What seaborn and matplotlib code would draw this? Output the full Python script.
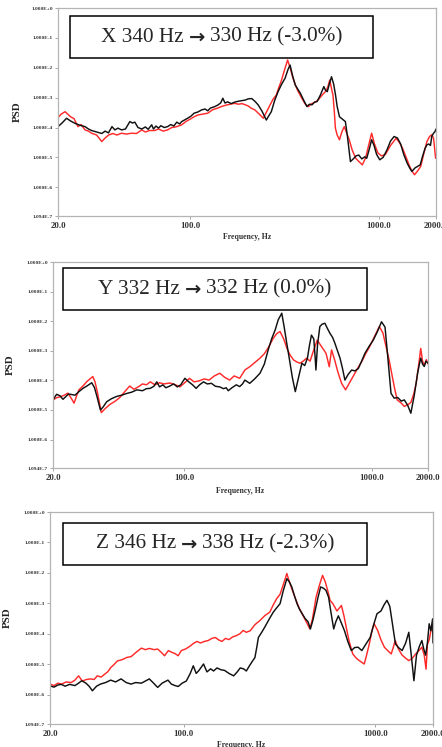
import numpy as np
import pandas as pd
import matplotlib
matplotlib.use("Agg")
import matplotlib.pyplot as plt
from matplotlib.patches import Rectangle
import seaborn as sns

# ---------------- data (frequency in Hz, log10 of PSD) ----------------
x_black_f = [20, 21, 22.2, 23.3, 24.6, 26, 27.8, 29, 30.1, 32, 34.1, 35.5, 37, 38.6, 40, 41.5, 43.4, 45.5, 48, 49.5,
             51, 53, 55.5, 58, 60, 62.6, 64, 66, 68, 70, 73, 76, 79, 82, 85, 88, 90.3, 94, 97, 101, 105, 110, 115,
             120, 124, 128, 135, 140, 145, 149, 153, 158, 165, 172, 180, 188, 196, 203, 212, 220, 229, 240, 253,
             260, 269, 280, 292, 305, 318, 330, 338, 348, 360, 372, 383, 400, 415, 428, 442, 455, 470, 490, 510,
             520, 532, 545, 560, 575, 588, 600, 617, 640, 663, 680, 695, 705, 730, 755, 780, 810, 840, 860, 885,
             913, 940, 970, 1008, 1050, 1100, 1150, 1200, 1250, 1300, 1350, 1407, 1450, 1490, 1550, 1600, 1650,
             1700, 1750, 1790, 1830, 1870, 1900, 1940, 1970, 2000]
x_black_lg = [-3.97, -3.85, -3.69, -3.78, -3.86, -3.92, -3.97, -4.05, -4.10, -4.15, -4.20, -4.12, -4.18, -3.97, -4.08,
              -4.02, -4.08, -4.05, -3.80, -3.85, -3.82, -4.00, -4.05, -3.98, -4.06, -3.91, -4.05, -3.95, -4.02, -3.94,
              -4.00, -3.97, -3.90, -3.95, -3.82, -3.88, -3.80, -3.74, -3.69, -3.62, -3.52, -3.48, -3.41, -3.38, -3.44,
              -3.35, -3.30, -3.25, -3.18, -3.02, -3.18, -3.14, -3.20, -3.15, -3.12, -3.10, -3.08, -3.04, -3.03, -3.12,
              -3.24, -3.45, -3.75, -3.62, -3.47, -3.10, -2.80, -2.55, -2.35, -2.05, -1.91, -2.25, -2.58, -2.72, -2.85,
              -3.10, -3.30, -3.22, -3.24, -3.15, -3.13, -2.90, -2.63, -2.75, -2.80, -2.55, -2.30, -2.55, -2.91, -3.30,
              -3.64, -3.72, -3.80, -4.30, -4.80, -5.14, -5.05, -4.95, -4.92, -5.05, -4.98, -5.03, -4.75, -4.41, -4.60,
              -4.90, -5.08, -5.00, -4.75, -4.45, -4.30, -4.35, -4.55, -4.90, -5.19, -5.35, -5.47, -5.35, -5.30, -5.25,
              -4.95, -4.70, -4.58, -4.55, -4.60, -4.30, -4.19, -4.15, -4.05]
x_red_f = [20, 20.8, 21.8, 22.5, 23.3, 24.3, 25.5, 26.5, 27.8, 29, 30.1, 32, 34.1, 35.5, 37.1, 39, 41, 43.4, 46, 49,
           52, 55.5, 58, 61, 65, 68, 72, 76, 80, 84, 90.3, 95, 100, 105, 110, 117, 124, 132, 140, 146, 155, 163, 172,
           180, 188, 196, 203, 210, 220, 232, 244, 255, 265, 275, 286, 295, 303, 315, 328, 340, 350, 370, 390, 405,
           422, 440, 460, 480, 500, 520, 535, 548, 560, 570, 580, 587, 600, 617, 635, 654, 675, 695, 720, 752, 785,
           815, 850, 880, 913, 945, 985, 1030, 1080, 1150, 1230, 1280, 1330, 1390, 1440, 1490, 1540, 1600, 1660,
           1720, 1790, 1850, 1900, 1940, 1960, 1990]
x_red_lg = [-3.67, -3.55, -3.47, -3.55, -3.64, -3.70, -3.97, -3.90, -4.08, -4.12, -4.19, -4.25, -4.47, -4.35, -4.25,
            -4.20, -4.25, -4.19, -4.22, -4.19, -4.20, -4.08, -4.15, -4.10, -4.10, -4.05, -4.12, -4.08, -4.00, -3.98,
            -3.91, -3.80, -3.72, -3.64, -3.58, -3.55, -3.52, -3.40, -3.35, -3.30, -3.25, -3.22, -3.19, -3.22, -3.20,
            -3.24, -3.28, -3.35, -3.41, -3.55, -3.69, -3.45, -3.24, -3.05, -2.91, -2.65, -2.46, -2.10, -1.74, -2.05,
            -2.35, -2.75, -3.02, -3.20, -3.30, -3.20, -3.15, -3.05, -2.91, -2.80, -2.65, -2.41, -2.70, -2.91, -3.50,
            -4.02, -4.25, -4.41, -4.15, -3.97, -4.20, -4.41, -4.75, -5.03, -5.15, -5.25, -5.00, -4.60, -4.19, -4.55,
            -4.85, -4.95, -4.90, -4.60, -4.36, -4.50, -4.69, -5.00, -5.25, -5.45, -5.58, -5.45, -5.30, -4.90, -4.47,
            -4.30, -4.24, -4.35, -4.60, -5.03]

y_black_f = [20, 20.9, 21.8, 22.6, 23.4, 24.2, 25.2, 26.2, 27.5, 28.9, 30.5, 32.2, 33.3, 34.3, 35.8, 37, 38.7, 41,
             43.8, 46.5, 49.6, 52.5, 56, 60, 63, 66, 69, 71.5, 74, 77, 80, 84, 88, 92, 96, 101, 106, 111, 116, 121,
             127, 133, 140, 147, 155, 162, 168, 172, 180, 190, 198, 205, 211, 224, 238, 254, 268, 281, 293, 306, 318,
             332, 342, 353, 365, 378, 392, 408, 425, 440, 455, 467, 478, 492, 500, 505, 515, 530, 545, 564, 582, 600,
             620, 638, 658, 679, 700, 721, 750, 783, 815, 850, 885, 921, 970, 1021, 1075, 1130, 1180, 1220, 1270,
             1320, 1380, 1440, 1495, 1560, 1620, 1690, 1760, 1800, 1830, 1870, 1910, 1950, 2000]
y_black_lg = [-4.66, -4.47, -4.52, -4.64, -4.55, -4.46, -4.48, -4.50, -4.38, -4.27, -4.18, -4.08, -4.25, -4.54, -5.00,
              -4.90, -4.72, -4.62, -4.54, -4.50, -4.44, -4.40, -4.32, -4.35, -4.28, -4.27, -4.20, -4.05, -4.22, -4.15,
              -4.25, -4.19, -4.12, -4.22, -4.15, -3.93, -4.05, -4.15, -4.27, -4.15, -4.05, -4.12, -4.10, -4.20, -4.22,
              -4.28, -4.25, -4.35, -4.25, -4.15, -4.21, -4.12, -3.99, -4.10, -3.95, -3.76, -3.45, -2.97, -2.60, -2.30,
              -1.95, -1.73, -2.20, -2.75, -3.30, -3.90, -4.38, -3.90, -3.42, -3.50, -3.25, -2.80, -2.47, -2.60, -3.20,
              -3.65, -2.80, -2.18, -2.10, -2.07, -2.25, -2.41, -2.55, -2.75, -3.00, -3.25, -3.60, -3.99, -3.80, -3.65,
              -3.68, -3.60, -3.35, -3.09, -2.85, -2.64, -2.35, -2.02, -2.20, -3.20, -4.44, -4.60, -4.58, -4.70, -4.66,
              -4.85, -5.11, -4.50, -3.76, -3.45, -3.25, -3.45, -3.53, -3.35, -3.42]
y_red_f = [20, 21, 22, 23, 24, 25, 25.9, 26.8, 27.5, 29, 30.2, 31.5, 32.6, 33.5, 34.5, 36.2, 38, 40.3, 43, 45.4, 48,
           51.3, 54, 57, 60, 63, 66, 70, 74, 78, 84, 90, 95, 100, 107, 113, 120, 128, 136, 145, 155, 165, 175, 185,
           198, 211, 224, 238, 254, 268, 281, 299, 312, 325, 340, 353, 368, 384, 400, 415, 432, 450, 470, 490, 513,
           540, 560, 572, 595, 612, 635, 660, 692, 727, 760, 800, 850, 886, 930, 977, 1040, 1100, 1150, 1190, 1240,
           1290, 1330, 1370, 1430, 1495, 1560, 1620, 1680, 1730, 1790, 1830, 1870, 1910, 1960, 2000]
y_red_lg = [-4.66, -4.58, -4.55, -4.50, -4.43, -4.60, -4.77, -4.50, -4.32, -4.18, -4.05, -3.95, -3.87, -4.05, -4.40,
            -5.09, -4.95, -4.81, -4.70, -4.58, -4.40, -4.19, -4.30, -4.22, -4.12, -4.15, -4.05, -4.15, -4.08, -4.12,
            -4.09, -4.15, -4.22, -4.10, -3.93, -4.05, -4.02, -3.95, -3.99, -3.85, -3.76, -3.90, -3.99, -3.85, -3.93,
            -3.65, -3.54, -3.40, -3.25, -3.10, -2.90, -2.58, -2.42, -2.35, -2.60, -2.90, -3.15, -3.31, -3.38, -3.42,
            -3.35, -3.25, -3.35, -3.00, -2.64, -2.85, -3.00, -3.09, -3.54, -2.97, -3.30, -3.70, -4.10, -4.32, -4.10,
            -3.85, -3.55, -3.37, -3.10, -2.86, -2.50, -2.18, -2.40, -2.81, -3.30, -3.87, -4.30, -4.66, -4.75, -4.88,
            -4.82, -4.75, -4.45, -4.10, -3.40, -2.92, -3.35, -3.50, -3.30, -3.45]

z_black_f = [20, 21, 22, 22.9, 24, 25.3, 27, 28.2, 29.3, 30.8, 32, 33.3, 35, 36.7, 39, 41.5, 44, 47, 50, 53, 56, 60,
             63, 66, 69, 73, 77, 82.6, 86, 90, 93.4, 98, 103, 108, 112, 116, 120, 126.7, 132, 138, 143, 149, 156, 163,
             172, 182, 190, 197, 205, 212, 220, 228, 235, 241, 245, 255, 264, 280, 293, 305, 318, 330, 345, 356, 366,
             378, 390, 402, 415, 430, 445, 458, 472, 487, 502, 518, 535, 552, 570, 590, 606, 622, 641, 665, 690, 718,
             749, 780, 813, 850, 890, 940, 980, 1020, 1070, 1110, 1150, 1190, 1230, 1273, 1320, 1380, 1440, 1495,
             1540, 1590, 1640, 1700, 1750, 1790, 1830, 1870, 1910, 1950, 1990, 2000]
z_black_lg = [-5.71, -5.75, -5.68, -5.66, -5.72, -5.66, -5.70, -5.62, -5.54, -5.62, -5.72, -5.87, -5.72, -5.65, -5.60,
              -5.52, -5.58, -5.48, -5.60, -5.65, -5.60, -5.62, -5.55, -5.48, -5.60, -5.76, -5.62, -5.52, -5.65, -5.70,
              -5.73, -5.62, -5.55, -5.30, -5.05, -5.30, -5.20, -4.99, -5.25, -5.15, -5.22, -5.12, -5.18, -5.20, -5.30,
              -5.38, -5.25, -5.12, -5.15, -5.22, -5.05, -4.90, -4.78, -4.40, -4.12, -3.95, -3.79, -3.50, -3.29, -3.15,
              -3.01, -2.60, -2.19, -2.30, -2.46, -2.75, -3.01, -3.20, -3.34, -3.50, -3.60, -3.84, -3.55, -3.18, -2.80,
              -2.46, -2.50, -2.57, -2.80, -3.40, -3.84, -3.60, -3.41, -3.65, -3.90, -4.25, -4.55, -4.45, -4.44, -4.55,
              -4.35, -4.12, -3.70, -3.34, -3.25, -3.05, -2.90, -3.10, -3.70, -4.33, -4.45, -4.55, -4.30, -3.95, -4.70,
              -5.54, -4.70, -4.40, -4.22, -4.50, -4.70, -4.30, -3.67, -3.90, -3.51, -4.30]
z_red_f = [20, 21, 22, 23, 24.3, 25.8, 27, 28.2, 29.5, 31, 32.5, 34, 35.3, 37, 38.5, 40, 41.5, 43, 45, 47.5, 50.7, 53,
           56, 60, 63, 66, 70, 73, 76, 79.3, 83, 86, 90, 93.4, 97, 102, 108, 112, 117, 122, 128, 134, 140, 146, 152,
           158, 165, 172, 180, 188, 196, 204, 212, 222, 235, 250, 265, 281, 293, 305, 318, 330, 345, 356, 370, 383,
           398, 415, 432, 455, 470, 490, 510, 530, 548, 565, 580, 600, 630, 665, 685, 705, 730, 762, 795, 825, 855,
           875, 900, 930, 960, 985, 1030, 1070, 1115, 1160, 1210, 1240, 1270, 1320, 1380, 1440, 1495, 1560, 1630,
           1690, 1750, 1800, 1840, 1870, 1910, 1950, 1990, 2000]
z_red_lg = [-5.65, -5.70, -5.62, -5.65, -5.58, -5.60, -5.52, -5.38, -5.55, -5.50, -5.48, -5.50, -5.38, -5.42, -5.33,
            -5.25, -5.11, -5.02, -4.89, -4.85, -4.77, -4.75, -4.62, -4.47, -4.52, -4.48, -4.52, -4.50, -4.60, -4.72,
            -4.55, -4.60, -4.65, -4.72, -4.55, -4.50, -4.40, -4.32, -4.25, -4.30, -4.25, -4.22, -4.15, -4.12, -4.20,
            -4.25, -4.15, -4.19, -4.10, -4.06, -4.00, -3.89, -3.95, -3.90, -3.70, -3.56, -3.40, -3.29, -3.05, -2.85,
            -2.70, -2.40, -2.02, -2.30, -2.60, -2.85, -3.12, -3.35, -3.56, -3.84, -3.50, -2.80, -2.41, -2.08, -2.30,
            -2.60, -2.90, -3.01, -3.25, -3.07, -3.40, -3.79, -4.25, -4.66, -4.80, -4.88, -4.95, -4.99, -4.70, -4.33,
            -3.90, -3.67, -3.90, -4.20, -4.44, -4.55, -4.66, -4.45, -4.22, -4.50, -4.70, -4.80, -4.88, -4.80, -4.65,
            -4.55, -4.44, -4.70, -5.16, -4.35, -4.20, -3.90, -3.70, -4.00]

titles = ["X 340 Hz \u2192 330 Hz (-3.0%)",
          "Y 332 Hz \u2192 332 Hz (0.0%)",
          "Z 346 Hz \u2192 338 Hz (-2.3%)"]
y_tick_vals = [1e0, 1e-1, 1e-2, 1e-3, 1e-4, 1e-5, 1e-6, 1.094e-7]
y_tick_labels = ["1.000E+0", "1.000E-1", "1.000E-2", "1.000E-3", "1.000E-4",
                 "1.000E-5", "1.000E-6", "1.094E-7"]
x_tick_vals = [20, 100, 1000, 2000]
x_tick_labels = ["20.0", "100.0", "1000.0", "2000.0"]
x_label = "Frequency, Hz"
y_label = "PSD"

# ---------------- styling ----------------
sns.set_style("white")
serif = ["Liberation Serif", "DejaVu Serif"]
plt.rcParams["font.family"] = serif

W, H = 442, 747
fig = plt.figure(figsize=(W / 100, H / 100), dpi=100)
renderer = fig.canvas.get_renderer()

panels = [
    dict(ax=(58, 8, 436, 216), box=(70, 16, 373, 58), ylab=-0.095, xlab=-0.082),
    dict(ax=(53, 262, 428, 468), box=(63, 268, 367, 310), ylab=-0.101, xlab=-0.092),
    dict(ax=(50, 512, 433, 724), box=(63, 523, 367, 565), ylab=-0.099, xlab=-0.078),
]
series = [
    (x_black_f, x_black_lg, x_red_f, x_red_lg),
    (y_black_f, y_black_lg, y_red_f, y_red_lg),
    (z_black_f, z_black_lg, z_red_f, z_red_lg),
]


def boxed_title(text, box):
    bl_, bt_, br_, bb_ = box
    rect = Rectangle((bl_ / W, (H - bb_) / H), (br_ - bl_) / W, (bb_ - bt_) / H,
                     transform=fig.transFigure, facecolor="white", edgecolor="black",
                     linewidth=1.1, zorder=5)
    fig.add_artist(rect)
    left, right = [s.strip() for s in text.split("\u2192")]
    cy = (H - (bt_ + bb_) / 2) / H
    parts = [
        fig.text(0, cy, left, ha="left", va="center", fontsize=15.3, family=serif, zorder=6),
        fig.text(0, cy, "\u2192", ha="left", va="center", fontsize=14, family=["DejaVu Sans"],
                 fontweight="bold", zorder=6),
        fig.text(0, cy, right, ha="left", va="center", fontsize=15.3, family=serif, zorder=6),
    ]
    gap = 5.0
    widths = [p.get_window_extent(renderer).width for p in parts]
    total = sum(widths) + gap * 2
    x = (bl_ + br_) / 2 - total / 2
    for p, w in zip(parts, widths):
        p.set_x(x / W)
        x += w + gap


for p, (bf, bl, rf, rl), title in zip(panels, series, titles):
    l, t, r, b = p["ax"]
    ax = fig.add_axes([l / W, (H - b) / H, (r - l) / W, (b - t) / H])
    ax.set_xscale("log")
    ax.set_yscale("log")
    df = pd.concat([
        pd.DataFrame({"f": rf, "psd": np.power(10.0, rl), "s": "red"}),
        pd.DataFrame({"f": bf, "psd": np.power(10.0, bl), "s": "black"}),
    ], ignore_index=True)
    sns.lineplot(data=df, x="f", y="psd", hue="s", palette={"red": "#ff2a2a", "black": "#111111"},
                 estimator=None, sort=False, legend=False, linewidth=1.05, ax=ax)
    ax.set_xlim(20, 2000)
    ax.set_ylim(1.094e-7, 1.0)
    ax.set_yticks(y_tick_vals)
    ax.set_yticklabels(y_tick_labels)
    ax.set_xticks(x_tick_vals)
    ax.set_xticklabels(x_tick_labels)
    ax.minorticks_off()
    ax.tick_params(axis="y", labelsize=3.9, length=2.5, width=0.6, color="#9a9a9a", pad=1,
                   labelcolor="#333333", left=True)
    ax.tick_params(axis="x", labelsize=6.3, length=2.5, width=0.6, color="#9a9a9a", pad=1.5,
                   labelcolor="#333333", bottom=True)
    for lab in ax.get_yticklabels() + ax.get_xticklabels():
        lab.set_fontweight("bold")
        lab.set_family(serif)
    for sp in ax.spines.values():
        sp.set_color("#b4b4b4")
        sp.set_linewidth(0.9)
    ax.set_xlabel(x_label, fontsize=5.6, fontweight="bold", color="#333333")
    ax.set_ylabel(y_label, fontsize=7.8, fontweight="bold", color="#222222")
    ax.xaxis.set_label_coords(0.5, p["xlab"])
    ax.yaxis.set_label_coords(p["ylab"], 0.5)
    ax.grid(False)

    boxed_title(title, p["box"])

fig.savefig("out.png", dpi=100, facecolor="white")
